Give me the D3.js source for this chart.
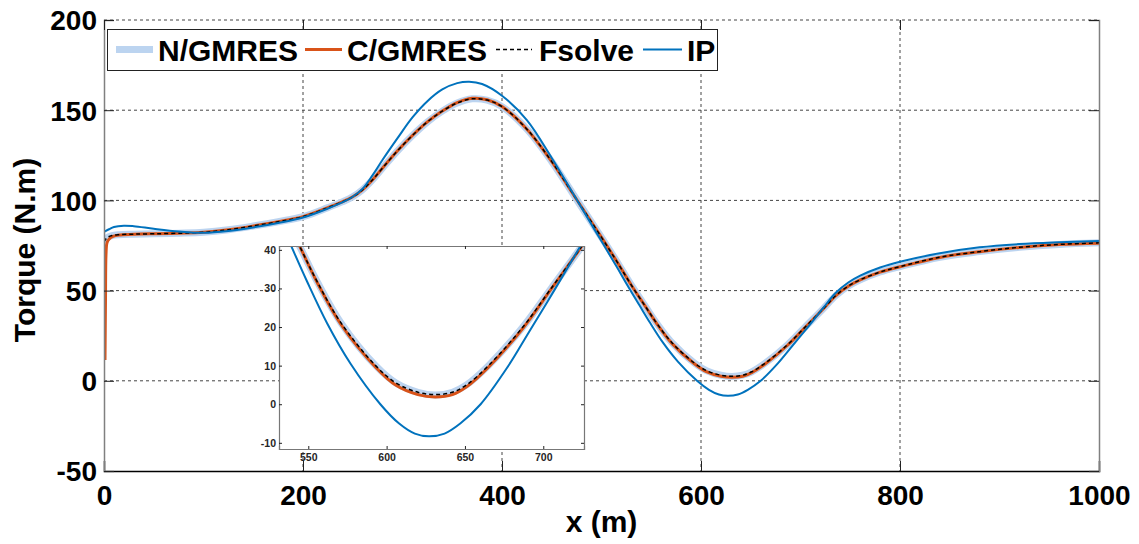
<!DOCTYPE html>
<html><head><meta charset="utf-8">
<script src="https://cdn.jsdelivr.net/npm/d3@7"></script>
<style>body{margin:0;background:#fff}svg{display:block}text{font-family:"Liberation Sans",Arial,sans-serif;font-weight:bold}</style>
</head><body><svg id="c" width="1139" height="544"></svg>
<script>
// ---- data ----
const xTicks = [0, 200, 400, 600, 800, 1000];
const yTicks = [-50, 0, 50, 100, 150, 200];
const insetXTicks = [550, 600, 650, 700];
const insetYTicks = [-10, 0, 10, 20, 30, 40];
const seriesNames = ["N/GMRES", "C/GMRES", "Fsolve", "IP"];

const xF = [0,3,8,15,30,50,75,100,125,150,175,200,225,240,250,260,270,280,295,310,325,340,355,370,385,400,425,450,475,500,515,530,545,556,571,593,606,620,631,642,651,665,687,705,723,735,748,760,780,800,840,880,920,960,1000];
const fsolve = [77,79.3,80.5,81,81.3,81.5,81.8,82.3,83.7,85.8,88.2,91,96,99.3,102,106,111.5,118,127.5,136,143.5,149.5,154,156.3,155.6,152,139.5,121.5,100.5,79.5,66.5,53,40.5,31.5,21,10,5.5,3.1,2.5,3.1,5,10,20,30,40,47,52.5,56,60.3,63.3,68.5,71.6,74,75.6,76.5];
const nGmres = [77,79.3,80.5,81,81.3,81.5,81.8,82.3,83.7,85.8,88.2,91,96,99.3,102,106,111.5,118,127.5,136,143.5,149.5,154,156.3,155.6,152,139.5,121.5,100.5,79.5,66.5,53,40.5,31.5,21,10,5.5,3.1,2.4,3.1,5,10,20,30,40,47,52.5,56,60.3,63.3,68.5,71.6,74,75.6,76.5];
const xC = [1,1.5,2,3,5,9,15,30,50,75,100,125,150,175,200,225,240,250,260,270,280,295,310,325,340,355,370,385,400,425,450,475,500,515,530,545,556,571,593,606,620,631,642,651,665,687,705,723,735,748,760,780,800,840,880,920,960,1000];
const cGmres = [11.5,45,70,76.5,78.5,80,80.8,81.2,81.5,81.8,82.3,83.7,85.8,88.2,91,96,99.3,102,106,111.5,118,127.5,136,143.5,149.5,154.2,156.6,155.8,152,139.5,121.5,100.5,79.5,66.5,53,40.5,31.3,20.6,9.6,4.9,2.5,1.9,2.5,4.5,9.6,19.7,29.8,40,47,52.4,55.9,60.2,63.2,68.4,71.5,73.9,75.5,76.3];
const xIP = [0,5,10,20,30,50,75,100,125,150,175,200,225,240,250,260,270,280,295,310,325,340,355,367,380,400,425,450,475,495,515,526,538,549,562,577,596,608,618,627,637,647,660,677,691,707,723,735,748,760,780,800,840,880,920,960,1000];
const ip = [82.5,84,85.3,86,85.7,84.3,82.8,82,83,85,87.5,90.5,95.5,99,102,106.5,114,122.5,134.5,146,155,161.5,165,165.8,164.5,158,144.5,123.5,100.5,82,63.5,53,42,32,21,10.5,0,-5,-7.6,-8.3,-7.6,-5,0,9.5,18.8,29.5,40.5,48.5,54.5,58.3,62.8,66,70.7,74,75.8,76.8,77.5];

// ---- layout ----
const svg = d3.select("#c");
const M = {l:104, t:20, r:1099, b:471};
const x = d3.scaleLinear().domain([0,1000]).range([M.l, M.r]);
const y = d3.scaleLinear().domain([-50,200]).range([M.b, M.t]);

const styles = [
  {name:seriesNames[0], xs:xF, ys:nGmres, color:"#bcd4f0", w:7, dash:null},
  {name:seriesNames[1], xs:xC, ys:cGmres, color:"#d95319", w:3, dash:null},
  {name:seriesNames[2], xs:xF, ys:fsolve, color:"#000", w:1.5, dash:"4,3"},
  {name:seriesNames[3], xs:xIP, ys:ip, color:"#0072bd", w:2, dash:null}
];

const defs = svg.append("defs");
defs.append("clipPath").attr("id","mclip").append("rect").attr("x",M.l).attr("y",M.t).attr("width",M.r-M.l).attr("height",M.b-M.t);

// grid
const grid = svg.append("g").attr("stroke","#444").attr("stroke-width",1).attr("stroke-dasharray","3,3");
xTicks.forEach(t=>{ if(t>0 && t<1000) grid.append("line").attr("x1",x(t)).attr("x2",x(t)).attr("y1",M.t).attr("y2",M.b); });
yTicks.forEach(t=>{ if(t>-50) grid.append("line").attr("x1",M.l).attr("x2",M.r).attr("y1",y(t)).attr("y2",y(t)); });

// lines
const lg = svg.append("g").attr("clip-path","url(#mclip)");
function drawLines(g, sx, sy){
  styles.forEach(s=>{
    const pts = s.xs.map((v,i)=>[v, s.ys[i]]);
    g.append("path").attr("d", d3.line().x(d=>sx(d[0])).y(d=>sy(d[1])).curve(d3.curveCatmullRom.alpha(0.5))(pts))
      .attr("fill","none").attr("stroke",s.color).attr("stroke-width",s.w)
      .attr("stroke-dasharray",s.dash).attr("stroke-linejoin","round");
  });
}
drawLines(lg, x, y);

// axes
const fmt = d => String(d);
const axB = svg.append("g").attr("transform",`translate(0,${M.b})`).call(d3.axisBottom(x).tickValues(xTicks).tickSize(-10).tickPadding(14).tickFormat(fmt));
const axL = svg.append("g").attr("transform",`translate(${M.l},0)`).call(d3.axisLeft(y).tickValues(yTicks).tickSize(-10).tickPadding(7).tickFormat(fmt));
const axT = svg.append("g").attr("transform",`translate(0,${M.t})`).call(d3.axisTop(x).tickValues(xTicks).tickSize(-10).tickFormat(""));
const axR = svg.append("g").attr("transform",`translate(${M.r},0)`).call(d3.axisRight(y).tickValues(yTicks).tickSize(-10).tickFormat(""));
[axB,axL,axT,axR].forEach(a=>{a.selectAll("text").attr("font-size",28).attr("fill","#000").attr("font-family",'"Liberation Sans",Arial,sans-serif').attr("font-weight","bold"); a.selectAll(".tick line").attr("stroke","#222");});
axB.select(".domain").attr("stroke","#000").attr("stroke-width",1.5);
axL.select(".domain").attr("stroke","#808080").attr("stroke-width",1.5);
axR.select(".domain").attr("stroke","#808080").attr("stroke-width",1.5);
axT.select(".domain").attr("stroke","none");
axL.selectAll("text").attr("dy","0.35em");

// axis titles
svg.append("text").attr("x",(M.l+M.r)/2).attr("y",532).attr("text-anchor","middle").attr("font-size",30).text("x (m)");
svg.append("text").attr("transform","translate(35,250) rotate(-90)").attr("text-anchor","middle").attr("font-size",30).text("Torque (N.m)");

// legend
const leg = svg.append("g");
leg.append("rect").attr("x",107.5).attr("y",29.5).attr("width",610).attr("height",41).attr("fill","#fff").attr("stroke","#222").attr("stroke-width",1);
const legPos = [{l1:116,l2:153,tx:158},{l1:305,l2:342,tx:347},{l1:496,l2:532,tx:539},{l1:643,l2:682,tx:687}];
styles.forEach((s,i)=>{
  const p = legPos[i];
  leg.append("line").attr("x1",p.l1).attr("x2",p.l2).attr("y1",49.5).attr("y2",49.5)
    .attr("stroke",s.color).attr("stroke-width",s.w).attr("stroke-dasharray",s.dash);
  leg.append("text").attr("x",p.tx).attr("y",61).attr("font-size",30).text(s.name);
});

// inset
const I = {l:279, t:246, r:584, b:449};
const ix = d3.scaleLinear().domain([531.3,726]).range([I.l, I.r]);
const iy = d3.scaleLinear().domain([-11.6,41]).range([I.b, I.t]);
defs.append("clipPath").attr("id","iclip").append("rect").attr("x",I.l).attr("y",I.t).attr("width",I.r-I.l).attr("height",I.b-I.t);
svg.append("rect").attr("x",I.l).attr("y",I.t).attr("width",I.r-I.l).attr("height",I.b-I.t).attr("fill","#fff");
const ig = svg.append("g").attr("clip-path","url(#iclip)");
drawLines(ig, ix, iy);
const iB = svg.append("g").attr("transform",`translate(0,${I.b})`).call(d3.axisBottom(ix).tickValues(insetXTicks).tickSize(-3).tickPadding(5).tickFormat(fmt));
const iL = svg.append("g").attr("transform",`translate(${I.l},0)`).call(d3.axisLeft(iy).tickValues(insetYTicks).tickSize(-3).tickPadding(3).tickFormat(fmt));
const iT = svg.append("g").attr("transform",`translate(0,${I.t})`).call(d3.axisTop(ix).tickValues(insetXTicks).tickSize(-3).tickFormat(""));
const iR = svg.append("g").attr("transform",`translate(${I.r},0)`).call(d3.axisRight(iy).tickValues(insetYTicks).tickSize(-3).tickFormat(""));
[iB,iL,iT,iR].forEach(a=>{a.selectAll("text").attr("font-size",10.5).attr("fill","#262626").attr("font-family",'"Liberation Sans",Arial,sans-serif').attr("font-weight","bold"); a.selectAll(".tick line").attr("stroke","#222"); a.select(".domain").attr("stroke","#777").attr("stroke-width",1.2);});
</script></body></html>
